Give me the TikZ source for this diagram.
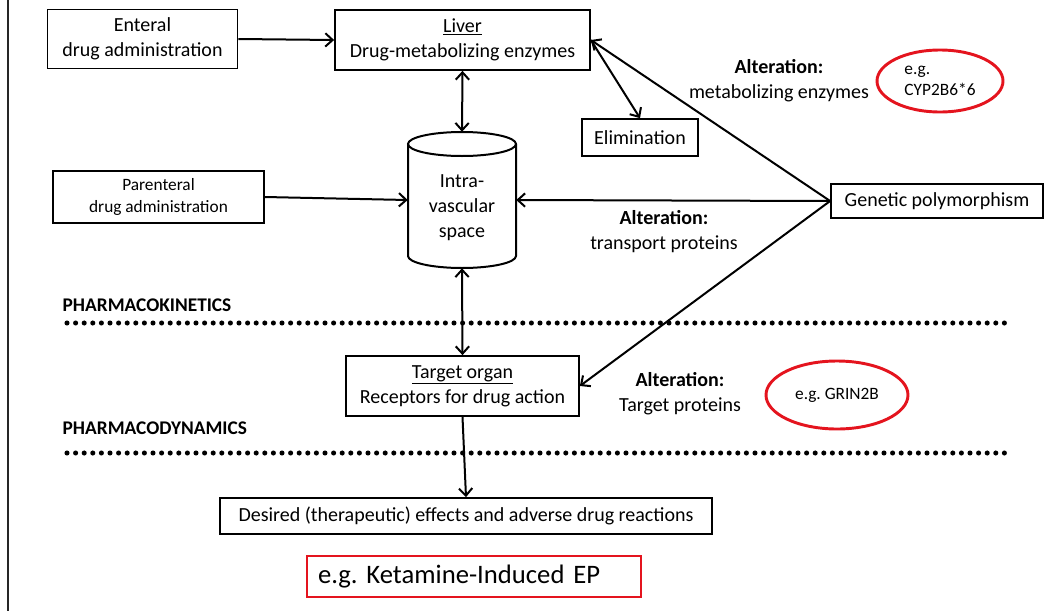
\documentclass[tikz,border=0pt]{standalone}
\usepackage{fontspec}
\setmainfont{Carlito}
\usetikzlibrary{arrows.meta,shapes.geometric}
\definecolor{ered}{RGB}{228,20,30}
\frenchspacing
\tikzset{
  fnt/.style={font=\fontsize{15}{18.75}\selectfont},
  box/.style={draw, line width=1.3pt, inner sep=0pt, align=center, fnt},
  arr/.style={line width=1.5pt, -{Straight Barb[length=5.5pt,width=10pt]}},
  darr/.style={line width=1.5pt, {Straight Barb[length=5.5pt,width=10pt]}-{Straight Barb[length=5.5pt,width=10pt]}},
  dotline/.style={line width=3.8pt, line cap=round, dash pattern=on 0pt off 6.45pt},
  redell/.style={ellipse, draw=ered, line width=2.2pt, inner sep=0pt, font=\fontsize{13}{16}\selectfont},
  lab/.style={align=center, fnt},
  sect/.style={anchor=west, font=\fontsize{14.5}{17}\selectfont\bfseries}
}
\begin{document}
\begin{tikzpicture}[x=0.75pt,y=-0.75pt]
\useasboundingbox (0,0) rectangle (1050,611);
\draw[black!85, line width=0.9pt] (8,0) -- (8,611);

\node[box, minimum width=142.5pt, minimum height=44.25pt] (enteral) at (142.5,39) {Enteral\\drug administration};
\node[box, minimum width=191.25pt, minimum height=45pt] (liver) at (462.5,40) {\underline{Liver}\\Drug-metabolizing enzymes};
\node[box, minimum width=87pt, minimum height=27.75pt] (elim) at (640,137.5) {Elimination};
\node[box, minimum width=158.25pt, minimum height=39pt, font=\fontsize{13}{16.5}\selectfont] (paren) at (158.5,197) {Parenteral\\drug administration};
\node[box, minimum width=159pt, minimum height=25.5pt] (gen) at (937,201) {Genetic polymorphism};
\node[box, minimum width=174.75pt, minimum height=45pt] (target) at (462.5,386) {\underline{Target organ}\\Receptors for drug action};
\node[box, minimum width=369pt, minimum height=27pt] (desired) at (466,516) {Desired (therapeutic) effects and adverse drug reactions};
\node[draw=ered, line width=1.5pt, minimum width=250.5pt, minimum height=30.75pt, inner xsep=8.25pt, inner ysep=0pt, text width=234pt, align=left, font=\fontsize{20}{24}\selectfont] (keta) at (474,576.5) {e.g. Ketamine-Induced EP};

% cylinder
\node[minimum width=81pt, minimum height=102pt, inner sep=0pt] (cyl) at (462,200) {};
\node[align=center, fnt, inner sep=0pt] (cyltext) at (462,208) {Intra-\\vascular\\space};
\draw[line width=1.5pt] (408,144) -- (408,256) arc[start angle=180, end angle=360, x radius=40.5pt, y radius=9pt] -- (516,144);
\draw[line width=1.5pt] (462,144) ellipse [x radius=40.5pt, y radius=9pt];

% labels
\node[lab] (alt1) at (779,81) {\textbf{Alteration:}\\metabolizing enzymes};
\node[lab] (alt2) at (664,231.5) {\textbf{Alteration:}\\transport proteins};
\node[lab] (alt3) at (680,393.5) {\textbf{Alteration:}\\Target proteins};
\node[redell, minimum width=94.5pt, minimum height=46.5pt, align=left] (cyp) at (940,81) {e.g.\\CYP2B6*6};
\node[redell, minimum width=106.5pt, minimum height=51pt] (grin) at (837,395) {e.g. GRIN2B};

\node[sect] (pk) at (58,305) {PHARMACOKINETICS};
\node[sect] (pd) at (58,428) {PHARMACODYNAMICS};
\draw[dotline] (67,323) -- (1011,323);
\draw[dotline] (67,453) -- (1011,453);

% connectors
\draw[arr] (enteral.east) -- (liver.west);
\draw[darr] (liver.south) -- (cyl.north);
\draw[arr] (paren.east) -- (cyl.west);
\draw[arr] (liver.east) -- (elim.north);
\draw[arr] (gen.west) -- (liver.east);
\draw[arr] (gen.west) -- (cyl.east);
\draw[arr] (gen.west) -- (target.east);
\draw[darr] (cyl.south) -- (target.north);
\draw[arr] (target.south) -- (desired.north);
\end{tikzpicture}
\end{document}
